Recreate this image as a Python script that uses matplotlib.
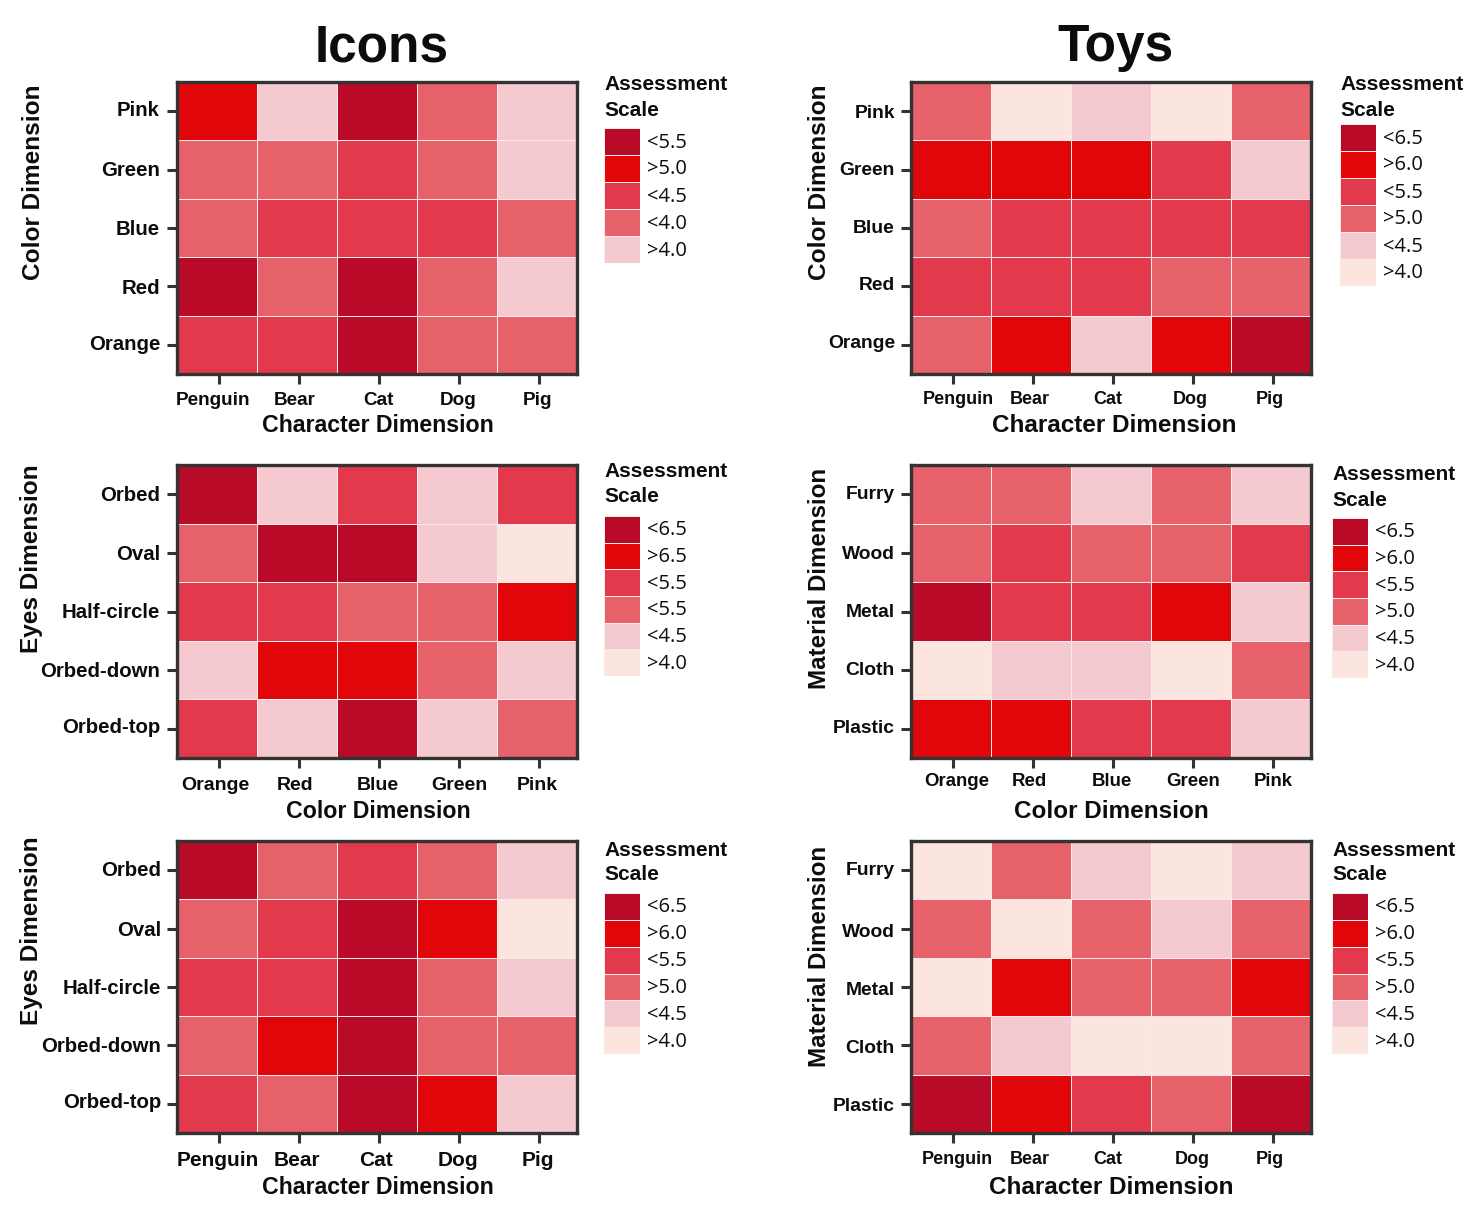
import matplotlib
matplotlib.use("Agg")
import matplotlib.pyplot as plt
import numpy as np
from matplotlib.colors import ListedColormap, BoundaryNorm

plt.rcParams['font.family'] = ['Liberation Sans', 'DejaVu Sans']

W, H = 1481, 1215

# ---------- data: level on the shared colour ramp (0 = lightest, 5 = darkest) ----------
characters = ["Penguin", "Bear", "Cat", "Dog", "Pig"]
colors_dim = ["Orange", "Red", "Blue", "Green", "Pink"]
color_rows = ["Pink", "Green", "Blue", "Red", "Orange"]
eyes_rows = ["Orbed", "Oval", "Half-circle", "Orbed-down", "Orbed-top"]
material_rows = ["Furry", "Wood", "Metal", "Cloth", "Plastic"]

icons_color = [[4, 1, 5, 2, 1],
               [2, 2, 3, 2, 1],
               [2, 3, 3, 3, 2],
               [5, 2, 5, 2, 1],
               [3, 3, 5, 2, 2]]
toys_color = [[2, 0, 1, 0, 2],
              [4, 4, 4, 3, 1],
              [2, 3, 3, 3, 3],
              [3, 3, 3, 2, 2],
              [2, 4, 1, 4, 5]]
icons_eyes_color = [[5, 1, 3, 1, 3],
                    [2, 5, 5, 1, 0],
                    [3, 3, 2, 2, 4],
                    [1, 4, 4, 2, 1],
                    [3, 1, 5, 1, 2]]
toys_material_color = [[2, 2, 1, 2, 1],
                       [2, 3, 2, 2, 3],
                       [5, 3, 3, 4, 1],
                       [0, 1, 1, 0, 2],
                       [4, 4, 3, 3, 1]]
icons_eyes_char = [[5, 2, 3, 2, 1],
                   [2, 3, 5, 4, 0],
                   [3, 3, 5, 2, 1],
                   [2, 4, 5, 2, 2],
                   [3, 2, 5, 4, 1]]
toys_material_char = [[0, 2, 1, 0, 1],
                      [2, 0, 2, 1, 2],
                      [0, 4, 2, 2, 4],
                      [2, 1, 0, 0, 2],
                      [5, 4, 3, 2, 5]]

legend_a = ["<5.5", ">5.0", "<4.5", "<4.0", ">4.0"]
legend_b = ["<6.5", ">6.0", "<5.5", ">5.0", "<4.5", ">4.0"]
legend_c = ["<6.5", ">6.5", "<5.5", "<5.5", "<4.5", ">4.0"]

ramp = ["#FCE5DF", "#F5C9D0", "#E7616A", "#E3394D", "#E10609", "#B90B27"]
cmap = ListedColormap(ramp)
norm = BoundaryNorm(np.arange(-0.5, 6.5), 6)
INK = "#333333"
TXT = "#0c0c0c"

fig = plt.figure(figsize=(W / 100, H / 100), dpi=100, facecolor="white")


def px_axes(x0, y0, x1, y1):
    return fig.add_axes([x0 / W, 1 - y1 / H, (x1 - x0) / W, (y1 - y0) / H])


def ftext(x, y, s, **kw):
    return fig.text(x / W, 1 - y / H, s, **kw)


def panel(box, vals, rows, cols, xlabel, ylabel, xlab_px, ylab_px, xlab_y, ylab_x, xt_size,
          legend, leg_x, leg_title_y, leg_top, leg_bottom, xtitle_x, xtitle_y, ytitle_x, ytitle_y,
          ytitle_size=17.6, yt_size=14.7, xtitle_size=16.7):
    x0, y0, x1, y1 = box
    ax = px_axes(x0, y0, x1, y1)
    a = np.array(vals)
    ax.pcolormesh(a, cmap=cmap, norm=norm, edgecolors="#fbeaea", linewidth=0.7)
    ax.set_xlim(0, 5)
    ax.set_ylim(5, 0)
    for s in ax.spines.values():
        s.set_linewidth(2.4)
        s.set_color(INK)
    ax.set_xticks(np.arange(5) + 0.52)
    ax.set_yticks(np.arange(5) + 0.5)
    ax.set_xticklabels([])
    ax.set_yticklabels([])
    ax.tick_params(axis="both", length=7.5, width=2.2, color=INK)
    for c, px in zip(cols, xlab_px):
        ftext(px, xlab_y + 2, c, ha="center", va="center", fontsize=xt_size, fontweight="bold", color=TXT)
    for r, py in zip(rows, ylab_px):
        ftext(ylab_x, py + 1.5, r, ha="right", va="center", fontsize=yt_size, fontweight="bold", color=TXT)
    ftext(xtitle_x, xtitle_y + 2, xlabel, ha="center", va="center", fontsize=xtitle_size, fontweight="bold", color=TXT)
    ftext(ytitle_x + 2.5, ytitle_y, ylabel, ha="center", va="center", rotation=90,
          fontsize=ytitle_size, fontweight="bold", color=TXT)

    # legend
    ftext(leg_x, leg_title_y + 1, "Assessment", ha="left", va="center", fontsize=15, fontweight="bold", color=TXT)
    ftext(leg_x, leg_title_y + 26, "Scale", ha="left", va="center", fontsize=15, fontweight="bold", color=TXT)
    lax = px_axes(leg_x, leg_top, leg_x + 36, leg_bottom)
    n = len(legend)
    levels = np.arange(5, 5 - n, -1) if n == 6 else np.array([5, 4, 3, 2, 1])
    lax.pcolormesh(levels.reshape(-1, 1), cmap=cmap, norm=norm, edgecolors="#fbeaea", linewidth=0.5)
    lax.set_ylim(n, 0)
    lax.set_xlim(0, 1)
    lax.axis("off")
    step = (leg_bottom - leg_top) / n
    for i, t in enumerate(legend):
        ftext(leg_x + 43, leg_top + (i + 0.5) * step + 1, t, ha="left", va="center",
              fontsize=14.5, family="Open Sans", color=TXT)


right = dict(yt_size=13.9, xtitle_size=17.5)

panel((177, 82, 577, 374), icons_color, color_rows, characters, "Character Dimension", "Color Dimension",
      [213, 295, 378, 458, 537], [109, 169, 228, 287, 343], 398, 160, 13.6,
      legend_a, 604, 84, 128, 263, 378, 424, 31, 182)
panel((911, 82, 1311, 374), toys_color, color_rows, characters, "Character Dimension", "Color Dimension",
      [958, 1030, 1108, 1190, 1270], [112, 169, 227, 284, 342], 397, 895, 13,
      legend_b, 1340, 84, 124, 286, 1114, 424, 817, 182, **right)
panel((177, 465, 577, 758), icons_eyes_color, eyes_rows, colors_dim, "Color Dimension", "Eyes Dimension",
      [215, 295, 378, 459, 537], [494, 553, 611, 670, 726], 783, 160, 14,
      legend_c, 604, 471, 516, 676, 378, 810, 29, 559)
panel((911, 465, 1311, 758), toys_material_color, material_rows, colors_dim, "Color Dimension", "Material Dimension",
      [957, 1029, 1112, 1193, 1273], [493, 553, 611, 669, 727], 779, 895, 13.4,
      legend_b, 1332, 474, 518, 678, 1111, 809, 817, 578, ytitle_size=17.4, **right)
panel((177, 841, 577, 1133), icons_eyes_char, eyes_rows, characters, "Character Dimension", "Eyes Dimension",
      [218, 297, 376, 458, 538], [869, 929, 987, 1045, 1101], 1159, 161, 15,
      legend_b, 604, 849, 893, 1054, 378, 1186, 29, 931)
panel((911, 841, 1311, 1133), toys_material_char, material_rows, characters, "Character Dimension", "Material Dimension",
      [957, 1030, 1108, 1192, 1270], [869, 931, 989, 1047, 1105], 1158, 895, 13,
      legend_b, 1332, 849, 893, 1054, 1111, 1186, 817, 956, ytitle_size=17.4, **right)

ftext(382, 48, "Icons", ha="center", va="center", fontsize=37, fontweight="bold", color=TXT)
ftext(1115, 48, "Toys", ha="center", va="center", fontsize=37, fontweight="bold", color=TXT)

fig.savefig("out.png", dpi=100, facecolor="white")
